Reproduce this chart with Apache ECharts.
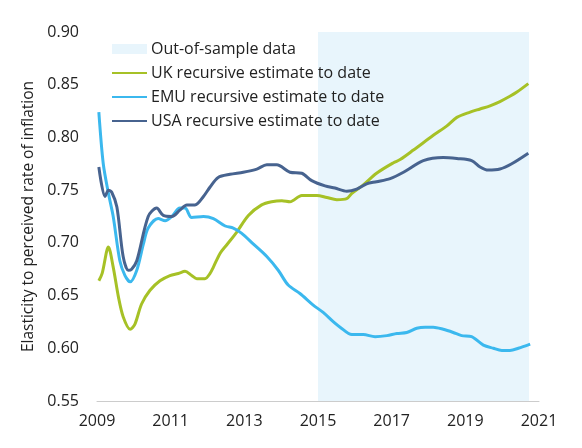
<!doctype html>
<html>
<head>
<meta charset="UTF-8">
<title>Elasticity to perceived rate of inflation</title>
<script src="https://cdn.jsdelivr.net/npm/echarts@6/dist/echarts.min.js"></script>
<style>
  html, body { margin: 0; padding: 0; background: #fff; }
  #main { width: 582px; height: 448px; }
</style>
</head>
<body>
<div id="main"></div>
<script>
// values
var ukYears = [2009.05, 2009.14, 2009.31, 2009.44, 2009.58, 2009.71, 2009.90, 2010.03, 2010.21, 2010.44,
  2010.71, 2010.98, 2011.21, 2011.39, 2011.57, 2011.71, 2011.93, 2012.07, 2012.16, 2012.34,
  2012.52, 2012.79, 2013.11, 2013.47, 2013.74, 2014.02, 2014.24, 2014.56, 2014.97, 2015.24,
  2015.51, 2015.78, 2015.92, 2016.23, 2016.59, 2017.05, 2017.23, 2017.59, 2018.13, 2018.50,
  2018.77, 2019.13, 2019.40, 2019.67, 2019.94, 2020.21, 2020.40, 2020.71];
var ukValues = [0.664, 0.671, 0.696, 0.677, 0.649, 0.630, 0.618, 0.623, 0.642, 0.655,
  0.664, 0.669, 0.671, 0.673, 0.669, 0.666, 0.666, 0.671, 0.677, 0.690,
  0.698, 0.710, 0.726, 0.736, 0.739, 0.740, 0.739, 0.745, 0.745, 0.743,
  0.741, 0.742, 0.747, 0.755, 0.766, 0.776, 0.779, 0.788, 0.802, 0.811,
  0.819, 0.824, 0.827, 0.830, 0.834, 0.839, 0.843, 0.851];

var emuYears = [2009.05, 2009.17, 2009.31, 2009.44, 2009.62, 2009.76, 2009.90, 2010.08, 2010.26, 2010.39,
  2010.66, 2010.85, 2011.03, 2011.25, 2011.39, 2011.57, 2011.89, 2012.16, 2012.48, 2012.70,
  2012.93, 2013.24, 2013.61, 2013.92, 2014.19, 2014.51, 2014.87, 2015.14, 2015.42, 2015.60,
  2015.92, 2016.23, 2016.55, 2016.87, 2017.14, 2017.41, 2017.68, 2017.91, 2018.13, 2018.40,
  2018.67, 2018.90, 2019.17, 2019.49, 2019.76, 2019.99, 2020.21, 2020.44, 2020.76];
var emuValues = [0.824, 0.775, 0.747, 0.725, 0.683, 0.669, 0.663, 0.674, 0.699, 0.714,
  0.723, 0.721, 0.725, 0.733, 0.733, 0.724, 0.725, 0.723, 0.716, 0.714,
  0.709, 0.699, 0.687, 0.674, 0.660, 0.652, 0.641, 0.634, 0.625, 0.620,
  0.613, 0.613, 0.611, 0.612, 0.614, 0.615, 0.619, 0.620, 0.620, 0.618,
  0.615, 0.612, 0.611, 0.603, 0.600, 0.598, 0.598, 0.600, 0.604];

var usaYears = [2009.05, 2009.22, 2009.31, 2009.40, 2009.54, 2009.71, 2009.85, 2009.94, 2010.08, 2010.39,
  2010.62, 2010.80, 2011.03, 2011.25, 2011.44, 2011.66, 2011.89, 2012.07, 2012.29, 2012.61,
  2012.97, 2013.34, 2013.61, 2013.88, 2014.24, 2014.56, 2014.83, 2015.19, 2015.46, 2015.78,
  2016.05, 2016.32, 2016.59, 2016.96, 2017.32, 2017.86, 2018.40, 2018.77, 2019.17, 2019.40,
  2019.62, 2019.94, 2020.26, 2020.71];
var usaValues = [0.772, 0.744, 0.750, 0.748, 0.734, 0.687, 0.674, 0.675, 0.683, 0.725,
  0.733, 0.726, 0.725, 0.731, 0.736, 0.736, 0.744, 0.753, 0.762, 0.765,
  0.767, 0.770, 0.774, 0.774, 0.767, 0.766, 0.759, 0.754, 0.752, 0.749,
  0.751, 0.756, 0.758, 0.761, 0.767, 0.778, 0.781, 0.780, 0.778, 0.772,
  0.769, 0.770, 0.775, 0.785];

var outOfSample = [2015.0, 2020.73];
var xTickYears = [2009, 2011, 2013, 2015, 2017, 2019, 2021];
var yTicks = [0.55, 0.60, 0.65, 0.70, 0.75, 0.80, 0.85, 0.90];

var baseYear = xTickYears[0];   // axis runs in years since 2009 so ticks land on odd years

function pairs(years, values) {
  var out = [];
  for (var i = 0; i < years.length; i++) {
    out.push([years[i] - baseYear, values[i]]);
  }
  return out;
}

var font = '"Open Sans", "Noto Sans", sans-serif';
var shade = '#e8f5fc';
var ukColor = '#a6c126', emuColor = '#3bb8ee', usaColor = '#47638f';

var myChart = echarts.init(document.getElementById('main'), null, { renderer: 'canvas' });

var option = {
  animation: false,
  textStyle: { fontFamily: font },
  grid: { left: 97, right: 43, top: 32, bottom: 47 },
  legend: {
    orient: 'vertical',
    left: 111,
    top: 41,
    padding: 0,
    itemWidth: 35,
    itemHeight: 10,
    itemGap: 8,
    textStyle: { fontFamily: font, fontSize: 16, color: '#222', padding: [0, 0, 0, -1] },
    data: [
      { name: 'Out-of-sample data', icon: 'rect', itemStyle: { color: shade, borderWidth: 0 } },
      { name: 'UK recursive estimate to date', itemStyle: { opacity: 0 } },
      { name: 'EMU recursive estimate to date', itemStyle: { opacity: 0 } },
      { name: 'USA recursive estimate to date', itemStyle: { opacity: 0 } }
    ]
  },
  xAxis: {
    type: 'value',
    min: 0,
    max: xTickYears[xTickYears.length - 1] - baseYear,
    interval: 2,
    axisLine: { lineStyle: { color: '#cccccc', width: 1 } },
    axisTick: { show: false },
    splitLine: { show: false },
    axisLabel: {
      margin: 12,
      fontSize: 16,
      color: '#222',
      formatter: function (v) { return String(v + baseYear); }
    }
  },
  yAxis: {
    type: 'value',
    min: yTicks[0],
    max: yTicks[yTicks.length - 1],
    interval: 0.05,
    axisLine: { show: false },
    axisTick: { show: false },
    splitLine: { show: false },
    axisLabel: {
      margin: 18,
      fontSize: 16,
      color: '#222',
      formatter: function (v) { return v.toFixed(2); }
    },
    name: 'Elasticity to perceived rate of inflation',
    nameLocation: 'middle',
    nameGap: 58,
    nameTextStyle: { fontSize: 15.5, color: '#222', fontFamily: font }
  },
  series: [
    {
      name: 'Out-of-sample data',
      type: 'line',
      data: [],
      symbol: 'none',
      itemStyle: { color: shade },
      markArea: {
        silent: true,
        itemStyle: { color: shade },
        data: [[{ xAxis: outOfSample[0] - baseYear }, { xAxis: outOfSample[1] - baseYear }]]
      }
    },
    {
      name: 'UK recursive estimate to date',
      type: 'line',
      symbol: 'none',
      smooth: 0.3,
      lineStyle: { width: 3, color: ukColor },
      itemStyle: { color: ukColor },
      data: pairs(ukYears, ukValues)
    },
    {
      name: 'EMU recursive estimate to date',
      type: 'line',
      symbol: 'none',
      smooth: 0.3,
      lineStyle: { width: 3, color: emuColor },
      itemStyle: { color: emuColor },
      data: pairs(emuYears, emuValues)
    },
    {
      name: 'USA recursive estimate to date',
      type: 'line',
      symbol: 'none',
      smooth: 0.3,
      lineStyle: { width: 3, color: usaColor },
      itemStyle: { color: usaColor },
      data: pairs(usaYears, usaValues)
    }
  ]
};

myChart.setOption(option, true);
</script>
</body>
</html>
